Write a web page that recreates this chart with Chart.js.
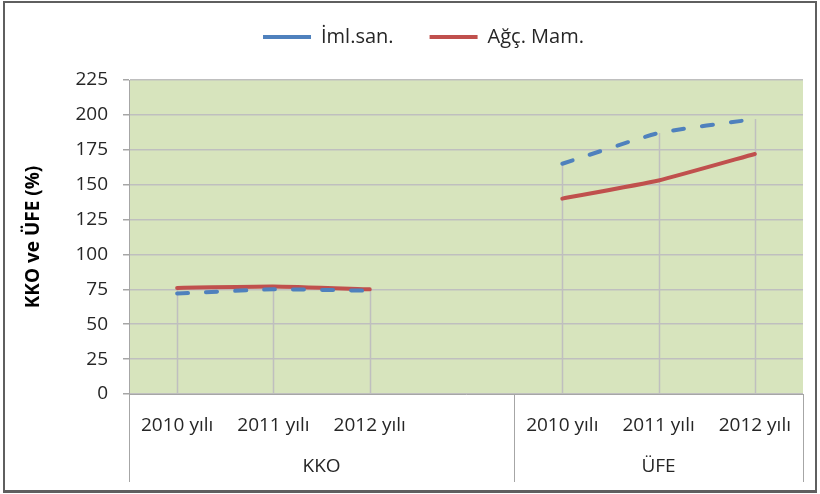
<!DOCTYPE html>
<html><head><meta charset="utf-8">
<script src="https://cdn.jsdelivr.net/npm/chart.js@4"></script>
<style>
html,body{margin:0;padding:0;background:#fff;}
#wrap{position:relative;width:820px;height:494px;overflow:hidden;}
#frame{position:absolute;left:3px;top:1px;width:810px;height:487px;border:2px solid #5f5f5f;border-bottom-width:3px;pointer-events:none;}
canvas{position:absolute;left:0;top:0;}
</style></head><body>
<div id="wrap"><canvas id="c" width="820" height="494"></canvas><div id="frame"></div></div>
<script>
const categories = ['2010 yılı', '2011 yılı', '2012 yılı', '', '2010 yılı', '2011 yılı', '2012 yılı'];
const groupLabels = ['KKO', 'ÜFE'];
const groupStart = [0, 4];
const groupEnd = [3, 6];
const imlSan = [72, 75, 74, null, 165, 187, 197];
const agcMam = [76, 77, 75, null, 140, 153, 172];
const seriesNames = ['İml.san.', 'Ağç. Mam.'];
const yMin = 0, yMax = 225, yStep = 25;
const yTitle = 'KKO ve ÜFE (%)';

const FONT = "'Open Sans', sans-serif";
const TXT = '#262626';
const SIZE = 19;

const bgPlugin = {
  id: 'bg',
  afterLayout(chart) {
    const lg = chart.legend;
    if (lg) { lg.left += 22; lg.right += 22; lg.top -= 9; }
  },
  beforeDraw(chart) {
    const a = chart.chartArea, ctx = chart.ctx;
    ctx.save();
    ctx.fillStyle = '#D7E4BD';
    ctx.fillRect(a.left, a.top, a.right - a.left, a.bottom - a.top);
    ctx.restore();
  },
  beforeDatasetsDraw(chart) {
    const ctx = chart.ctx, a = chart.chartArea;
    const n = chart.data.labels.length;
    ctx.save();
    ctx.strokeStyle = '#BFBFBF';
    ctx.lineWidth = 1.5;
    for (let i = 0; i < n; i++) {
      let top = null, x = null;
      chart.data.datasets.forEach((ds, di) => {
        if (ds.data[i] == null) return;
        const el = chart.getDatasetMeta(di).data[i];
        x = el.x;
        top = top == null ? el.y : Math.min(top, el.y);
      });
      if (top == null) continue;
      ctx.beginPath();
      ctx.moveTo(Math.round(x) + 0.5, top);
      ctx.lineTo(Math.round(x) + 0.5, a.bottom);
      ctx.stroke();
    }
    ctx.restore();
  },
  afterDraw(chart) {
    const ctx = chart.ctx, a = chart.chartArea, xs = chart.scales.x;
    const half = (xs.getPixelForValue(1) - xs.getPixelForValue(0)) / 2;
    ctx.save();
    ctx.strokeStyle = '#A6A6A6';
    ctx.lineWidth = 1;
    const seps = [xs.getPixelForValue(groupStart[0]) - half];
    groupEnd.forEach(e => seps.push(xs.getPixelForValue(e) + half));
    seps.forEach(x => {
      ctx.beginPath();
      ctx.moveTo(Math.round(x) + 0.5, a.bottom);
      ctx.lineTo(Math.round(x) + 0.5, a.bottom + 88);
      ctx.stroke();
    });
    ctx.fillStyle = TXT;
    ctx.font = SIZE + 'px ' + FONT;
    ctx.textAlign = 'center';
    ctx.textBaseline = 'middle';
    groupLabels.forEach((g, k) => {
      const l = xs.getPixelForValue(groupStart[k]) - half;
      const r = xs.getPixelForValue(groupEnd[k]) + half;
      ctx.fillText(g, (l + r) / 2, a.bottom + 73);
    });
    ctx.restore();
  }
};

const legendHeight = {
  id: 'legendHeight',
  beforeInit(chart) {
    const orig = chart.legend.fit;
    chart.legend.fit = function () { orig.call(this); this.height = 80; };
  }
};

new Chart(document.getElementById('c'), {
  type: 'line',
  data: {
    labels: categories,
    datasets: [
      { label: seriesNames[0], data: imlSan, borderColor: '#4F81BD', backgroundColor: '#4F81BD',
        borderWidth: 4, borderDash: [11, 18], borderCapStyle: 'round', pointRadius: 0, tension: 0.15, spanGaps: false },
      { label: seriesNames[1], data: agcMam, borderColor: '#C0504D', backgroundColor: '#C0504D',
        borderWidth: 4, borderCapStyle: 'round', pointRadius: 0, tension: 0.15, spanGaps: false }
    ]
  },
  options: {
    responsive: false,
    animation: false,
    layout: { padding: { left: 0, right: 17, top: 0, bottom: 0 } },
    plugins: {
      tooltip: { enabled: false },
      legend: {
        position: 'top',
        align: 'center',
        labels: {
          usePointStyle: true,
          pointStyle: 'line',
          pointStyleWidth: 48,
          padding: 36,
          color: TXT,
          font: { family: FONT, size: 20 },
          generateLabels(chart) {
            const items = Chart.defaults.plugins.legend.labels.generateLabels(chart);
            items.forEach(it => { if (it.lineDash && it.lineDash.length) it.lineDash = [14, 18]; });
            return items;
          }
        }
      }
    },
    scales: {
      x: {
        type: 'category',
        offset: true,
        grid: { display: false, drawTicks: false },
        border: { display: true, color: '#A6A6A6', width: 1 },
        ticks: { color: TXT, font: { family: FONT, size: SIZE }, padding: 20, maxRotation: 0, autoSkip: false },
        afterFit(s) { s.height = 100; }
      },
      y: {
        min: yMin, max: yMax,
        ticks: { stepSize: yStep, color: TXT, font: { family: FONT, size: SIZE }, padding: 15 },
        grid: { color: '#BFBFBF', lineWidth: 1.5, tickLength: 6, tickColor: '#A6A6A6' },
        border: { display: true, color: '#A6A6A6', width: 1 },
        title: { display: true, text: yTitle, color: '#000', font: { family: FONT, size: SIZE, weight: 'bold' }, padding: { top: 22, bottom: 0 } },
        afterFit(s) { s.width = 129; }
      }
    }
  },
  plugins: [bgPlugin, legendHeight]
});
</script>
</body></html>
